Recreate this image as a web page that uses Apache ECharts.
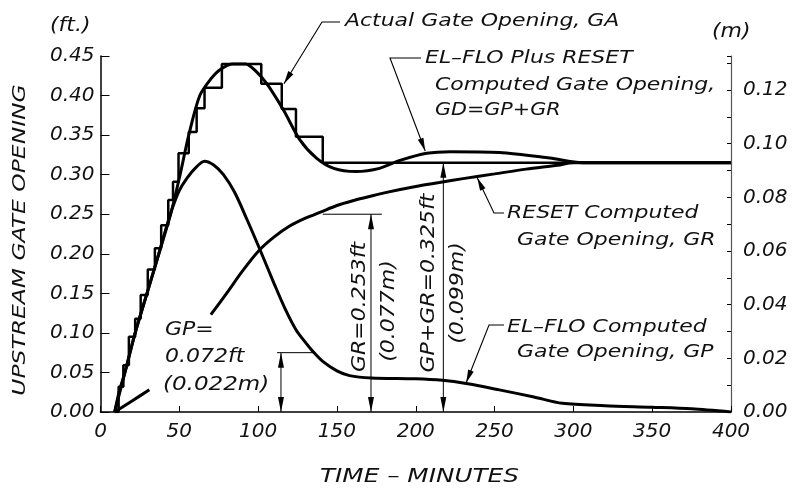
<!DOCTYPE html>
<html>
<head>
<meta charset="utf-8">
<script src="https://cdn.jsdelivr.net/npm/echarts@6/dist/echarts.min.js"></script>
<style>
  html, body { margin: 0; background: #fff; }
  #gate { width: 801px; height: 494px; }
</style>
</head>
<body>
<div id="gate"></div>
<script>
var chart = echarts.init(document.getElementById('gate'));

// time (minutes) , gate opening (ft)
const gdPoints = [[9, 0], [12, 0.027], [15.5, 0.05], [22, 0.10], [29.5, 0.15], [37, 0.20], [44.5, 0.25],
  [50.5, 0.30], [56, 0.35], [63, 0.40], [70, 0.421], [76, 0.433], [84, 0.44], [92, 0.44], [99, 0.43],
  [105.5, 0.415], [116, 0.382], [126.5, 0.344], [137, 0.321], [148, 0.308], [162, 0.304], [177, 0.308],
  [190, 0.318], [207, 0.327], [222, 0.329], [253, 0.328], [285, 0.321], [306, 0.315], [400, 0.315]];

const gpPoints = [[9, 0], [15.5, 0.05], [22, 0.10], [29.5, 0.15], [37, 0.20], [42, 0.235], [46, 0.26],
  [50, 0.28], [55, 0.296], [60, 0.308], [66, 0.317], [72, 0.312], [78, 0.300], [85, 0.278], [93, 0.243],
  [101, 0.206], [110, 0.163], [117, 0.131], [124, 0.104], [130, 0.088], [135, 0.076], [141, 0.064],
  [150, 0.052], [158, 0.046], [172, 0.043], [200, 0.042], [217, 0.040], [232, 0.036], [253, 0.028],
  [275, 0.019], [293, 0.011], [320, 0.008], [350, 0.006], [375, 0.004], [400, 0.0]];

// the middle part of GR is hidden behind the GP label
const grPoints = [[9, 0], [20, 0.014], [31, 0.028], [50, null], [70, 0.123], [80, 0.150], [90, 0.178],
  [100, 0.203], [110, 0.221], [120, 0.235], [130, 0.245], [140, 0.253], [150, 0.261], [160, 0.267],
  [170, 0.272], [180, 0.277], [200, 0.285], [215, 0.290], [230, 0.295], [250, 0.301], [270, 0.307],
  [290, 0.312], [300, 0.315], [400, 0.315]];

// actual gate moves: time of move, new opening
const gaSteps = [[9, 0], [11.5, 0.032], [14.5, 0.059], [18, 0.095], [22, 0.118], [25.5, 0.148], [30, 0.18],
  [34.5, 0.207], [38.5, 0.236], [43, 0.268], [46, 0.291], [49.5, 0.327], [56, 0.354], [61, 0.384],
  [66, 0.41], [77, 0.44], [102, 0.415], [115, 0.383], [124, 0.348], [141, 0.315], [400, 0.315]];

// dimension marks: time, height (ft), extension line from / to
const gpDim = [114.5, 0.075, 112, 135];
const grDim = [171.6, 0.25, 141, 178.5];
const gdDim = [217.5, 0.315];

const FONT = '"DejaVu Sans", sans-serif';

function labelFt(v) { return v.toFixed(2); }
function labelM(v) {
  const k = Math.round(v * 100);
  return (k % 2 === 0 && Math.abs(v * 100 - k) < 1e-6) ? (k / 100).toFixed(2) : '';
}

const axisText = { fontStyle: 'italic', fontWeight: 200, fontFamily: FONT, fontSize: 20, color: '#111' };

chart.setOption({
  animation: false,
  backgroundColor: '#fff',
  grid: { left: 100.5, right: 70, top: 56, bottom: 82 },
  xAxis: {
    type: 'value', min: 0, max: 400, interval: 50,
    axisLine: { lineStyle: { color: '#000', width: 1.5 } },
    axisTick: { inside: true, length: 6, lineStyle: { color: '#000' } },
    axisLabel: Object.assign({ margin: 10 }, axisText),
    splitLine: { show: false }
  },
  yAxis: [{
    type: 'value', min: 0, max: 0.45, interval: 0.05,
    axisLine: { show: true, lineStyle: { color: '#000', width: 1.5 } },
    axisTick: { show: true, inside: true, length: 9, lineStyle: { color: '#000' } },
    axisLabel: Object.assign({ margin: 6, formatter: labelFt }, axisText),
    splitLine: { show: false }
  }, {
    type: 'value', min: 0, max: 0.1327, interval: 0.01, position: 'right',
    axisLine: { show: true, lineStyle: { color: '#555', width: 1.2 } },
    axisTick: { show: true, inside: true, length: 4, lineStyle: { color: '#000' } },
    axisLabel: Object.assign({ margin: 12, formatter: labelM }, axisText),
    splitLine: { show: false }
  }],
  series: [
    { name: 'GA', type: 'line', step: 'end', data: gaSteps, symbol: 'none',
      lineStyle: { color: '#000', width: 2.5 } },
    { name: 'GD', type: 'line', data: gdPoints, symbol: 'none', smooth: 0.3,
      lineStyle: { color: '#000', width: 3 } },
    { name: 'GP', type: 'line', data: gpPoints, symbol: 'none', smooth: 0.3,
      lineStyle: { color: '#000', width: 3 } },
    { name: 'GR', type: 'line', data: grPoints, symbol: 'none', smooth: 0.3, connectNulls: false,
      lineStyle: { color: '#000', width: 3 } }
  ]
});

function px(t, v) { return chart.convertToPixel({ xAxisIndex: 0, yAxisIndex: 0 }, [t, v]); }

function head(from, tip, len, hw) {
  const dx = tip[0] - from[0], dy = tip[1] - from[1], d = Math.hypot(dx, dy);
  const ux = dx / d, uy = dy / d;
  const bx = tip[0] - ux * len, by = tip[1] - uy * len;
  return { type: 'polygon', z: 20, silent: true,
    shape: { points: [tip, [bx - uy * hw, by + ux * hw], [bx + uy * hw, by - ux * hw]] },
    style: { fill: '#000' } };
}

function leader(points, tip) {
  const all = points.concat([tip]);
  return [
    { type: 'polyline', z: 20, silent: true, shape: { points: all }, style: { stroke: '#000', lineWidth: 1.1, fill: null } },
    head(points[points.length - 1], tip, 13, 3)
  ];
}

function dimension(d) {
  const base = px(d[0], 0), top = px(d[0], d[1]);
  const out = [
    { type: 'line', z: 20, silent: true, shape: { x1: base[0], y1: base[1], x2: top[0], y2: top[1] },
      style: { stroke: '#000', lineWidth: 1 } },
    head(top, base, 15, 3),
    head(base, top, 15, 3)
  ];
  if (d.length > 2) {
    const a = px(d[2], d[1]), b = px(d[3], d[1]);
    out.push({ type: 'line', z: 20, silent: true, shape: { x1: a[0], y1: a[1], x2: b[0], y2: b[1] },
      style: { stroke: '#000', lineWidth: 1 } });
  }
  return out;
}

// the drawing font is wide, so text is stretched along its run
function text(str, x, y, size, stretch, opts) {
  return Object.assign({ type: 'text', x: x, y: y, z: 30, silent: true, scaleX: stretch || 1.1,
    style: { text: str, font: 'italic 200 ' + size + 'px ' + FONT, fill: '#111',
      textAlign: 'left', textVerticalAlign: 'middle' } }, opts || {});
}

function vtext(str, x, y, size, stretch) {
  const t = text(str, x, y, size, stretch, { rotation: Math.PI / 2 });
  t.style.textAlign = 'center';
  return t;
}

let g = [];
g = g.concat(leader([[340, 22], [322, 22]], px(116.4, 0.415)));
g = g.concat(leader([[421, 58], [390, 58]], px(206, 0.330)));
g = g.concat(leader([[504, 213], [494, 213]], px(239, 0.296)));
g = g.concat(leader([[504, 325], [489, 325]], px(232, 0.037)));
g = g.concat(dimension(gpDim), dimension(grDim), dimension(gdDim));

const NOTE = 1.22;
g.push(
  text('Actual Gate Opening, GA', 345, 21, 18, NOTE),
  text('EL\u2013FLO Plus RESET', 425, 58, 18, NOTE),
  text('Computed Gate Opening,', 435, 85, 18, NOTE),
  text('GD=GP+GR', 435, 110, 18, 1.15),
  text('RESET Computed', 507, 213, 18, NOTE),
  text('Gate Opening, GR', 517, 240, 18, NOTE),
  text('EL\u2013FLO Computed', 507, 327, 18, NOTE),
  text('Gate Opening, GP', 517, 352, 18, NOTE),
  text('GP=', 165, 330, 20),
  text('0.072ft', 165, 357, 20),
  text('(0.022m)', 163, 385, 20, 1.15),
  vtext('GR=0.253ft', 360, 307, 20),
  vtext('(0.077m)', 389, 311, 20),
  vtext('GP+GR=0.325ft', 429, 283, 20),
  vtext('(0.099m)', 458, 293, 20),
  text('(ft.)', 50, 26, 20),
  text('(m)', 712, 32, 20),
  vtext('UPSTREAM GATE OPENING', 20, 240, 18, 1.3),
  text('TIME \u2013 MINUTES', 320, 477, 19, 1.3)
);

chart.setOption({ graphic: g });
</script>
</body>
</html>
